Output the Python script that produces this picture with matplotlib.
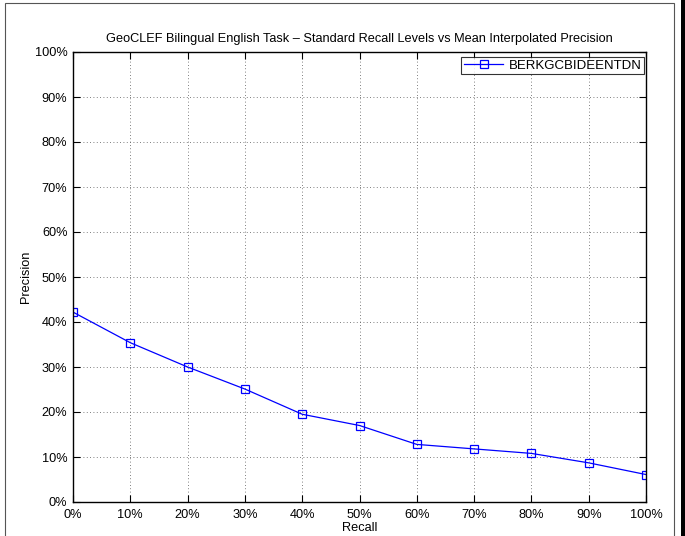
import numpy as np
import matplotlib
matplotlib.use("Agg")
import matplotlib.pyplot as plt
from matplotlib.patches import Rectangle
from matplotlib.ticker import FuncFormatter

plt.rcParams['font.family'] = ['Liberation Sans', 'DejaVu Sans']

# recall levels and mean interpolated precision (in %)
recall = [0, 10, 20, 30, 40, 50, 60, 70, 80, 90, 100]
precision = [42.2, 35.4, 30.0, 25.1, 19.5, 17.0, 12.8, 11.8, 10.8, 8.7, 6.1]
runname = "BERKGCBIDEENTDN"
title = "GeoCLEF Bilingual English Task \u2013 Standard Recall Levels vs Mean Interpolated Precision"

fig = plt.figure(figsize=(6.85, 5.36), dpi=100)
ax = fig.add_axes([73/685, 34/536, 573/685, 450/536])

ax.plot(recall, precision, color="blue", linewidth=0.9, marker="s", markersize=6,
        markerfacecolor="none", markeredgecolor="blue", markeredgewidth=0.9, label=runname)

ax.set_xlim(0, 100)
ax.set_ylim(0, 100)
ax.set_xticks(np.arange(0, 101, 10))
ax.set_yticks(np.arange(0, 101, 10))
pct = FuncFormatter(lambda v, p: "%d%%" % v)
ax.xaxis.set_major_formatter(pct)
ax.yaxis.set_major_formatter(pct)
ax.tick_params(direction="in", length=5, width=0.8, top=True, right=True, labelsize=9.2)
ax.tick_params(axis="x", pad=5)
ax.tick_params(axis="y", pad=4)
ax.grid(True, linestyle=(0, (1, 3)), color="#555555", linewidth=0.6)
for s in ax.spines.values():
    s.set_linewidth(1.0)

ax.set_title(title, fontsize=9.2, pad=7)
ax.set_xlabel("Recall", fontsize=9.2, labelpad=1)
ax.set_ylabel("Precision", fontsize=9.2, labelpad=2)

leg = ax.legend(loc="upper right", bbox_to_anchor=(0.997, 0.989), fontsize=9.5, frameon=True,
                fancybox=False, edgecolor="black", borderpad=0.2, handlelength=3.0,
                handletextpad=0.4, borderaxespad=0)
leg.get_frame().set_linewidth(0.8)

# outer frame of the figure
fig.patches.append(Rectangle((5/685, -0.05), 669/685, (536-3)/536 + 0.05, transform=fig.transFigure,
                             fill=False, edgecolor="#555555", linewidth=0.8))
fig.patches.append(Rectangle((681/685, 0), 4/685, 1, transform=fig.transFigure,
                             fill=True, facecolor="black", edgecolor="none"))

fig.savefig("out.png", dpi=100)
